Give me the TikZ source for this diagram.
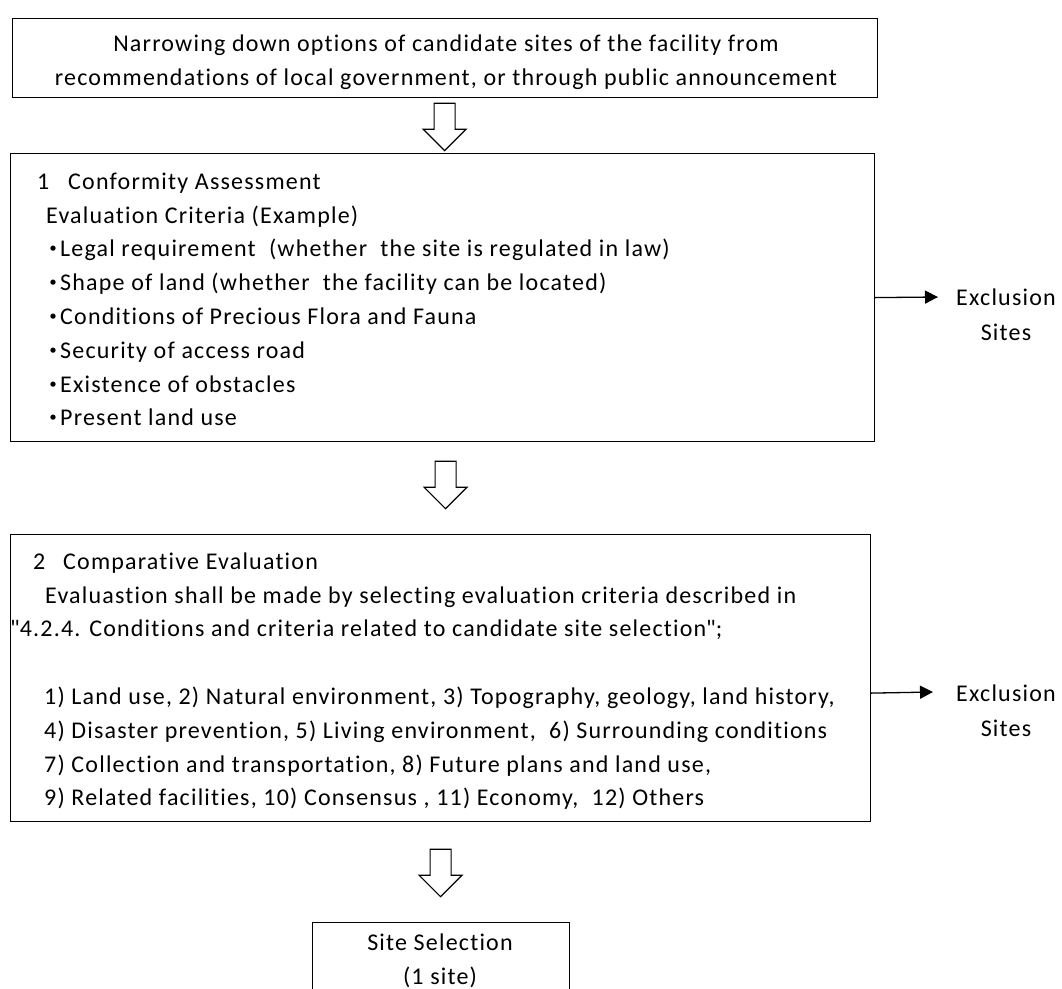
\documentclass[tikz,border=0pt]{standalone}
\usepackage{fontspec}
\setmainfont{Carlito}[LetterSpace=5, Ligatures={NoCommon}]
\newfontfamily\plainq{Carlito}[LetterSpace=5]
\usetikzlibrary{arrows.meta,calc}
\newcommand\fsz{\fontsize{24pt}{33.8pt}\selectfont}
\newcommand\fsx{\fontsize{24pt}{35pt}\selectfont}
\newcommand\stt{\rule{0pt}{20pt}}
\newcommand\bul{\makebox[14pt][c]{\bfseries\fontsize{28pt}{28pt}\selectfont ·}}
\newcommand\dq{{\plainq\symbol{34}}}
\tikzset{
  box/.style={draw, line width=1.2pt, inner sep=0pt, anchor=north west},
  txt/.style={inner sep=0pt, align=left, anchor=north west, font=\fsz},
  ctxt/.style={inner sep=0pt, align=center, anchor=north, font=\fsz},
  extxt/.style={inner sep=0pt, align=center, anchor=north, font=\fsx},
  exarrow/.style={line width=1.3pt, -{Triangle[length=13pt,width=13pt]}},
  hollow/.pic={\draw[line width=1.2pt, line join=miter, fill=white]
     (-10.5,0) -- (10.5,0) -- (10.5,26) -- (21.5,26) -- (0,47.5) -- (-21.5,26) -- (-10.5,26) -- cycle;}
}
\begin{document}
\begin{tikzpicture}[x=1pt,y=-1pt]
\useasboundingbox (0,0) rectangle (1062,988);
\clip (0,0) rectangle (1062,988);

% boxes
\node[box, minimum width=865pt, minimum height=79pt] (b1) at (12,18) {};
\node[box, minimum width=864pt, minimum height=288pt] (b2) at (10,153) {};
\node[box, minimum width=860pt, minimum height=287pt] (b3) at (10,534) {};
\node[box, minimum width=257pt, minimum height=90pt] (b4) at (312,922) {};

% texts
\node[ctxt] (t1) at (446,31) {\stt Narrowing down options of candidate sites of the facility from\\
recommendations of local government, or through public announcement};

\node[txt] (t2) at (37,169) {\stt\makebox[31pt][l]{1}Conformity Assessment\\
\hspace*{9pt}Evaluation Criteria (Example)\\
\hspace*{9pt}\bul Legal requirement\ \ (whether\ \ the site is regulated in law)\\
\hspace*{9pt}\bul Shape of land (whether\ \ the facility can be located)\\
\hspace*{9pt}\bul Conditions of Precious Flora and Fauna\\
\hspace*{9pt}\bul Security of access road\\
\hspace*{9pt}\bul Existence of obstacles\\
\hspace*{9pt}\bul Present land use};

\node[txt] (t3) at (10,549) {\stt\hspace*{23pt}\makebox[30pt][l]{2}Comparative Evaluation\\
\hspace*{35pt}Evaluastion shall be made by selecting evaluation criteria described in\\
\dq4.2.4. Conditions and criteria related to candidate site selection\dq;\\[33.8pt]
\hspace*{34pt}1) Land use, 2) Natural environment, 3) Topography, geology, land history,\\
\hspace*{34pt}4) Disaster prevention, 5) Living environment,\ \ 6) Surrounding conditions\\
\hspace*{34pt}7) Collection and transportation, 8) Future plans and land use,\\
\hspace*{34pt}9) Related facilities, 10) Consensus , 11) Economy,\ \ 12) Others};

\node[ctxt] (t4) at (440,930) {\stt Site Selection\\(1 site)};

\node[extxt] (x1) at (1006,285) {\stt Exclusion\\Sites};
\node[extxt] (x2) at (1006,681) {\stt Exclusion\\Sites};

% block arrows
\pic at ([xshift=-0.5pt,yshift=-5pt]b1.south) {hollow};
\pic at ([xshift=3pt,yshift=-19pt]b2.south) {hollow};
\pic at ([yshift=-27pt]b3.south) {hollow};

% exclusion arrows
\coordinate (e1) at (938,297);
\coordinate (e2) at (933,692);
\draw[exarrow] (b2.east) -- (e1);
\draw[exarrow] ([yshift=-15pt]b3.east) -- (e2);
\end{tikzpicture}
\end{document}
